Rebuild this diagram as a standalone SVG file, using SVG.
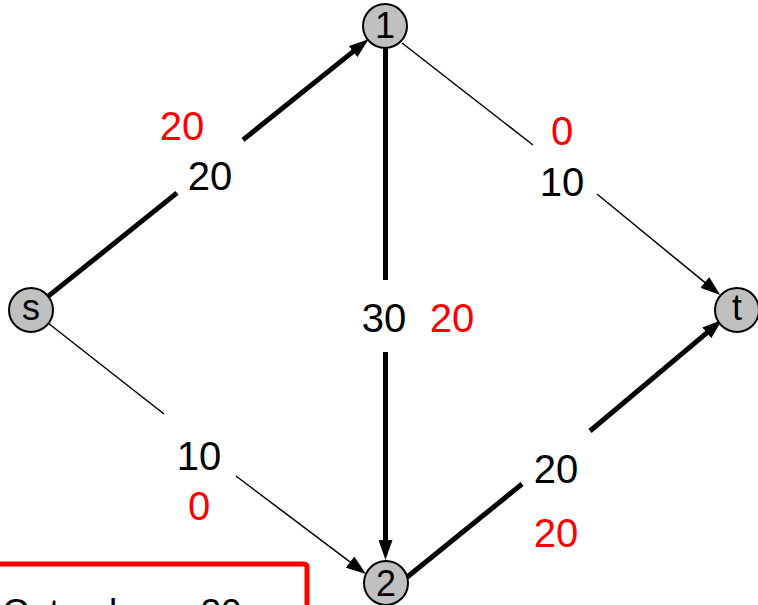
<svg xmlns="http://www.w3.org/2000/svg" width="758" height="605" viewBox="0 0 758 605">
<style>
.node circle{fill:#c0c0c0;stroke:#000;stroke-width:2}
.node text{font-family:"Liberation Sans",Arial,sans-serif;font-size:36px;fill:#000;text-anchor:middle}
.thick{stroke:#000;stroke-width:5;fill:none}
.thin{stroke:#000;stroke-width:1.5;fill:none}
.lbl{font-family:"Liberation Sans",Arial,sans-serif;font-size:40px;text-anchor:middle}
.cap{fill:#000}
.flow{fill:#ff0000}
</style>
<defs>
<marker id="ah" markerUnits="userSpaceOnUse" markerWidth="20" markerHeight="14" refX="2" refY="7" orient="auto" viewBox="0 0 20 14">
<path d="M0,0 L20,7 L0,14 z" fill="#000"/>
</marker>
</defs>
<rect width="758" height="605" fill="#fff"/>
<g id="connectors">
<g id="e-s-1">
<line class="thick" x1="47.4" y1="296.9" x2="177" y2="192.9"/>
<line class="thick" x1="243" y1="139.9" x2="354.6" y2="50.4" marker-end="url(#ah)"/>
<text class="lbl flow" x="182" y="140">20</text>
<text class="lbl cap" x="210" y="190">20</text>
</g>
<g id="e-1-t">
<line class="thin" x1="402" y1="43" x2="533" y2="145"/>
<line class="thin" x1="597" y1="194" x2="706.3" y2="283.7" marker-end="url(#ah)"/>
<text class="lbl flow" x="562" y="145">0</text>
<text class="lbl cap" x="562" y="196">10</text>
</g>
<g id="e-s-2">
<line class="thin" x1="48" y1="323" x2="164" y2="414"/>
<line class="thin" x1="236" y1="476" x2="351.6" y2="563.2" marker-end="url(#ah)"/>
<text class="lbl cap" x="199" y="470">10</text>
<text class="lbl flow" x="199" y="520">0</text>
</g>
<g id="e-1-2">
<line class="thick" x1="385.5" y1="48" x2="385.5" y2="280"/>
<line class="thick" x1="385.5" y1="352" x2="385.5" y2="542" marker-end="url(#ah)"/>
<text class="lbl cap" x="384" y="332">30</text>
<text class="lbl flow" x="452" y="332">20</text>
</g>
<g id="e-2-t">
<line class="thick" x1="406" y1="578" x2="522" y2="484"/>
<line class="thick" x1="590" y1="431" x2="708.3" y2="331.6" marker-end="url(#ah)"/>
<text class="lbl cap" x="556" y="483">20</text>
<text class="lbl flow" x="556" y="547">20</text>
</g>
</g>
<g id="node-s" class="node"><circle cx="31" cy="310" r="22"/><text x="31" y="320">s</text></g>
<g id="node-1" class="node"><circle cx="385" cy="26" r="22"/><text x="385" y="38">1</text></g>
<g id="node-2" class="node"><circle cx="386" cy="583" r="22"/><text x="386" y="596">2</text></g>
<g id="node-t" class="node"><circle cx="737" cy="310" r="22"/><text x="737" y="320">t</text></g>
<g id="result-box">
<rect x="-10" y="564" width="317" height="80" rx="3" fill="#fff" stroke="#ff0000" stroke-width="5"/>
<text x="2" y="625" style="font-family:'Liberation Sans',Arial,sans-serif;font-size:37px;fill:#000">Cut value = 20</text>
</g>
</svg>
